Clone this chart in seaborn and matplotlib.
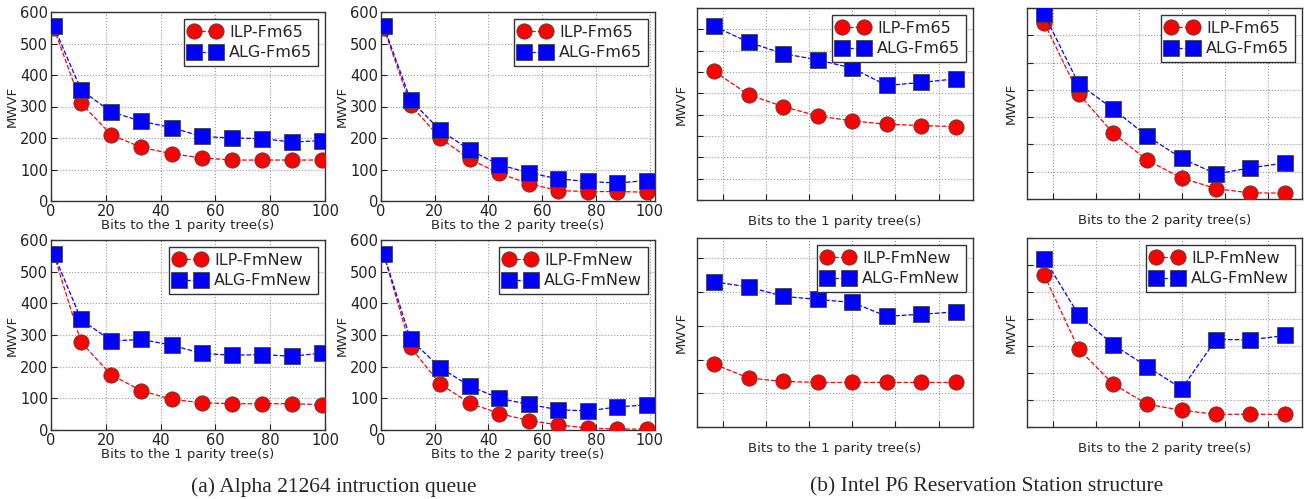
import numpy as np
import pandas as pd
import matplotlib
matplotlib.use("Agg")
import matplotlib.pyplot as plt
import seaborn as sns

# --- data ---
# (a) Alpha 21264: x = bits to the parity tree(s)
alpha_bits = [1, 11, 22, 33, 44, 55, 66, 77, 88, 99]
ilp_fm65_1 = [550, 310, 210, 170, 150, 137, 130, 130, 130, 130]
alg_fm65_1 = [555, 352, 283, 253, 233, 205, 200, 198, 187, 192]
ilp_fm65_2 = [550, 305, 200, 133, 88, 55, 33, 30, 30, 28]
alg_fm65_2 = [555, 320, 225, 162, 115, 90, 70, 62, 57, 65]
ilp_fmnew_1 = [555, 277, 174, 124, 97, 86, 83, 83, 83, 80]
alg_fmnew_1 = [556, 349, 281, 286, 268, 242, 236, 238, 233, 243]
ilp_fmnew_2 = [555, 262, 145, 85, 52, 30, 16, 6, 3, 3]
alg_fmnew_2 = [556, 286, 197, 139, 100, 81, 64, 60, 73, 79]

# (b) Intel P6: no tick labels in the original, arbitrary units
p6_bits = [8, 16, 24, 32, 40, 48, 56, 64]
p6_ilp_fm65_1 = [60.3, 49.3, 43.8, 39.4, 37.1, 35.5, 34.9, 34.4]
p6_alg_fm65_1 = [81.4, 73.9, 68.6, 65.7, 61.8, 53.7, 55.1, 56.8]
p6_ilp_fm65_2 = [64.6, 38.6, 24.2, 14.2, 7.7, 3.8, 2.2, 2.2]
p6_alg_fm65_2 = [67.7, 42.3, 33.0, 23.0, 14.9, 9.2, 11.4, 13.2]
p6_ilp_fmnew_1 = [18.6, 14.5, 13.5, 13.2, 13.2, 13.2, 13.2, 13.2]
p6_alg_fmnew_1 = [43.0, 41.5, 38.7, 37.8, 36.9, 32.8, 33.4, 34.1]
p6_ilp_fmnew_2 = [56.3, 28.9, 16.0, 8.4, 6.2, 4.7, 4.7, 4.7]
p6_alg_fmnew_2 = [62.4, 41.6, 30.5, 22.4, 14.2, 32.4, 32.3, 33.9]

sns.set_style("ticks")
plt.rcParams["font.family"] = ["DejaVu Sans"]

W, H = 1304, 499
fig = plt.figure(figsize=(W / 100, H / 100), dpi=100)


def make_ax(left, right, top, bottom):
    return fig.add_axes([left / W, 1 - bottom / H, (right - left) / W, (bottom - top) / H])


def draw(ax, x, ilp, alg, names, ntree, labels=True):
    sns.lineplot(x=x, y=ilp, ax=ax, color="red", marker="o", linestyle="--",
                 linewidth=0.9, markersize=11, markeredgecolor="#444444",
                 markeredgewidth=0.6, label=names[0], zorder=3)
    sns.lineplot(x=x, y=alg, ax=ax, color="blue", marker="s", linestyle="--",
                 linewidth=0.9, markersize=11, markeredgecolor="#444444",
                 markeredgewidth=0.6, label=names[1], zorder=3)
    ax.grid(True, linestyle=":", color="#999999", linewidth=0.8)
    for s in ax.spines.values():
        s.set_color("#333333")
        s.set_linewidth(1.0)
    ax.tick_params(direction="in", length=4, pad=2, labelsize=10.5, colors="#222222")
    if labels:
        ax.set_ylabel("MWVF", fontsize=9.5, labelpad=1)
        ax.set_xlabel(f"Bits to the {ntree} parity tree(s)", fontsize=9.5, labelpad=0)
    else:
        ax.set_xticklabels([])
        ax.set_yticklabels([])
        ax.set_ylabel("MWVF", fontsize=9.5, labelpad=5)
        ax.set_xlabel(f"Bits to the {ntree} parity tree(s)", fontsize=9.5, labelpad=8.5)
    leg = ax.legend(loc="upper right", numpoints=2, handlelength=2.0, fontsize=11.5,
                    fancybox=False, frameon=True, borderpad=0.35, labelspacing=0.35,
                    handletextpad=0.5, borderaxespad=0.45)
    leg.get_frame().set_edgecolor("#333333")
    leg.get_frame().set_linewidth(1.0)
    leg.get_frame().set_alpha(1)


# (a) panels
ax1 = make_ax(51, 325, 12, 201)
draw(ax1, alpha_bits, ilp_fm65_1, alg_fm65_1, ["ILP-Fm65", "ALG-Fm65"], 1)
ax1.set_xlim(0, 100)
ax2 = make_ax(381, 655, 12, 201)
draw(ax2, alpha_bits, ilp_fm65_2, alg_fm65_2, ["ILP-Fm65", "ALG-Fm65"], 2)
ax2.set_xlim(0, 102)
ax5 = make_ax(51, 325, 240, 430)
draw(ax5, alpha_bits, ilp_fmnew_1, alg_fmnew_1, ["ILP-FmNew", "ALG-FmNew"], 1)
ax5.set_xlim(0, 100)
ax6 = make_ax(381, 655, 240, 430)
draw(ax6, alpha_bits, ilp_fmnew_2, alg_fmnew_2, ["ILP-FmNew", "ALG-FmNew"], 2)
ax6.set_xlim(0, 102)
for ax in (ax1, ax2, ax5, ax6):
    ax.set_ylim(0, 600)
    ax.set_yticks(np.arange(0, 601, 100))
    ax.set_xticks(np.arange(0, 101, 20))

# (b) panels
ax3 = make_ax(697, 973, 8, 200)
ax4 = make_ax(1027, 1302, 8, 199)
ax7 = make_ax(697, 973, 238, 427)
ax8 = make_ax(1027, 1302, 238, 427)
panels_b = [
    (ax3, p6_ilp_fm65_1, p6_alg_fm65_1, ["ILP-Fm65", "ALG-Fm65"], 1, 90),
    (ax4, p6_ilp_fm65_2, p6_alg_fm65_2, ["ILP-Fm65", "ALG-Fm65"], 2, 70),
    (ax7, p6_ilp_fmnew_1, p6_alg_fmnew_1, ["ILP-FmNew", "ALG-FmNew"], 1, 56),
    (ax8, p6_ilp_fmnew_2, p6_alg_fmnew_2, ["ILP-FmNew", "ALG-FmNew"], 2, 70),
]
for ax, ilp, alg, names, nt, ytop in panels_b:
    ax.set_xticks(np.arange(10, 61, 10))
    ax.set_yticks(np.arange(0, ytop + 1, 10))
    draw(ax, p6_bits, ilp, alg, names, nt, labels=False)
    ax.set_xlim(4, 68)
    ax.set_ylim(0, ytop)

fig.text(334 / W, 1 - 487 / H, "(a) Alpha 21264 intruction queue", ha="center", va="center",
         fontsize=15.5, family="Liberation Serif")
fig.text(987 / W, 1 - 487 / H, "(b) Intel P6 Reservation Station structure", ha="center",
         va="center", fontsize=15.5, family="Liberation Serif")

fig.savefig("out.png", dpi=100)
